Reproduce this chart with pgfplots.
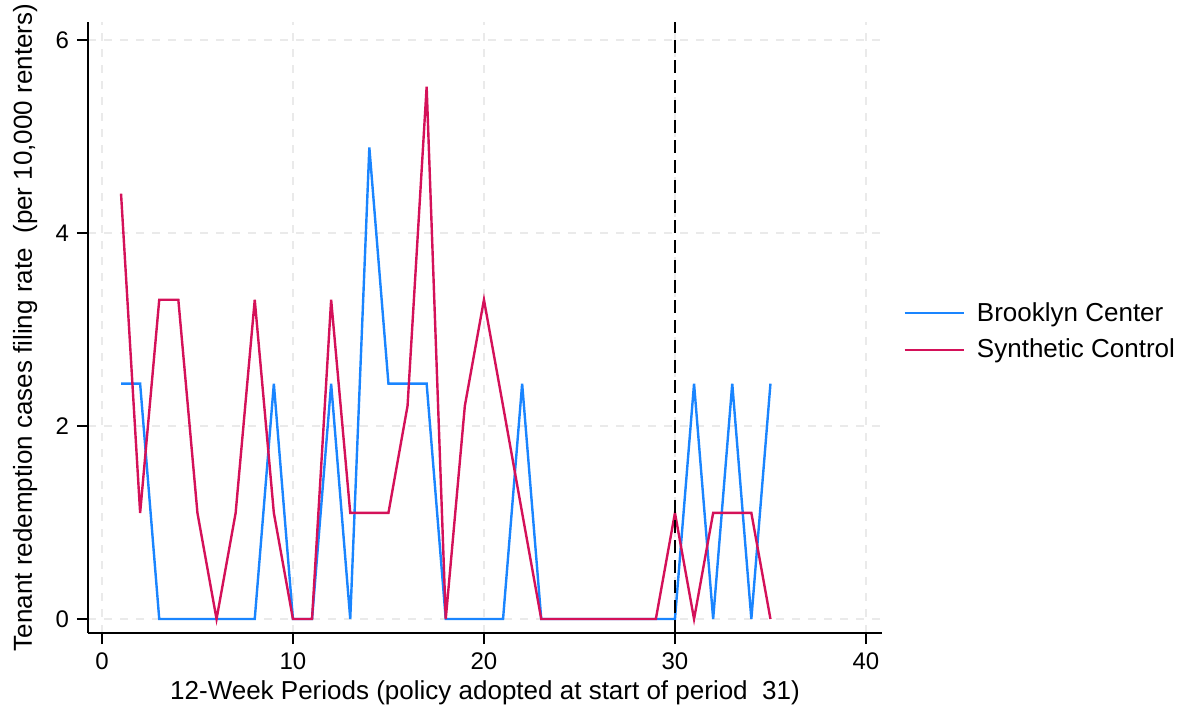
\documentclass[border=0pt]{standalone}
\usepackage{fontspec}
\setmainfont{Liberation Sans}
\usepackage{pgfplots}
\pgfplotsset{compat=1.18}
\definecolor{bcblue}{RGB}{26,133,255}
\definecolor{scred}{RGB}{212,17,89}
\definecolor{gridgray}{RGB}{234,234,234}
\begin{document}
\begin{tikzpicture}
\useasboundingbox (-44pt,-40pt) rectangle (548.5pt,316.5pt);
\begin{axis}[
  at={(0,0)}, anchor=south west,
  scale only axis, width=397pt, height=305.5pt,
  xmin=-0.73, xmax=40.84, ymin=-0.145, ymax=6.19,
  axis lines=left, axis line style={-, line width=1pt, black},
  xtick={0,10,20,30,40}, ytick={0,2,4,6},
  tick align=outside, major tick length=5.5pt,
  tick style={line width=1pt, black},
  grid=major, major grid style={gridgray, line width=0.9pt, dash pattern=on 4pt off 4pt},
  /pgf/number format/assume math mode=true,
  tick label style={font=\fontsize{12}{14}\selectfont},
  xticklabel style={yshift=-1pt},
  yticklabel style={xshift=-0.5pt},
  xlabel={12-Week Periods (policy adopted at start of period \ 31)},
  ylabel={Tenant redemption cases filing rate \ (per 10,000 renters)},
  every axis x label/.style={at={(axis description cs:0.5,-0.098)}, anchor=center, font=\fontsize{13}{16}\selectfont},
  every axis y label/.style={at={(axis description cs:-0.0793,0.5)}, rotate=90, anchor=center, font=\fontsize{13}{16}\selectfont},
  legend style={at={(axis description cs:1,0.5)}, anchor=west, xshift=10.5pt, yshift=-2pt, draw=none, fill=none,
    font=\fontsize{13}{16}\selectfont, row sep=3.5pt, inner xsep=0pt, inner ysep=0pt},
  legend cell align=left,
  legend image code/.code={\draw[#1] (0cm,0cm) -- (1.04cm,0cm);},
]
\addplot[bcblue, line width=1.2pt] coordinates {
(1,2.44)(2,2.44)(3,0)(4,0)(5,0)(6,0)(7,0)(8,0)(9,2.44)(10,0)(11,0)(12,2.44)(13,0)(14,4.89)(15,2.44)(16,2.44)(17,2.44)(18,0)(19,0)(20,0)(21,0)(22,2.44)(23,0)(24,0)(25,0)(26,0)(27,0)(28,0)(29,0)(30,0)(31,2.44)(32,0)(33,2.44)(34,0)(35,2.44)};
\addlegendentry{\hspace{4pt}Brooklyn Center}
\addplot[scred, line width=1.2pt] coordinates {
(1,4.41)(2,1.10)(3,3.31)(4,3.31)(5,1.10)(6,0)(7,1.10)(8,3.31)(9,1.10)(10,0)(11,0)(12,3.31)(13,1.10)(14,1.10)(15,1.10)(16,2.21)(17,5.52)(18,0)(19,2.21)(20,3.31)(21,2.21)(22,1.10)(23,0)(24,0)(25,0)(26,0)(27,0)(28,0)(29,0)(30,1.10)(31,0)(32,1.10)(33,1.10)(34,1.10)(35,0)};
\addlegendentry{\hspace{4pt}Synthetic Control}
\addplot[black, line width=1.3pt, dash pattern=on 6.5pt off 3.5pt, forget plot] coordinates {(30,-0.145)(30,6.19)};
\end{axis}
\end{tikzpicture}
\end{document}
